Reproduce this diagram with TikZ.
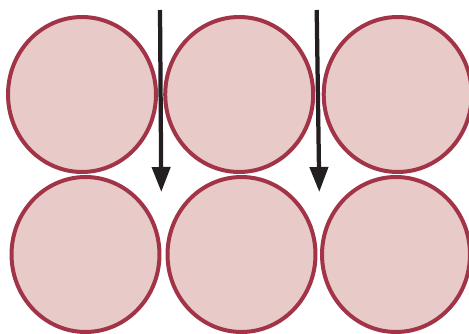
\documentclass[tikz,border=0pt]{standalone}
\usetikzlibrary{arrows.meta,shapes.geometric}

\definecolor{cellfill}{RGB}{232,202,201}
\definecolor{cellrim}{RGB}{162,52,72}
\definecolor{arrowdark}{RGB}{35,31,32}

\begin{document}
\begin{tikzpicture}[x=0.02cm,y=-0.02cm,line join=round,
  cell/.style={ellipse,draw=cellrim,fill=cellfill,line width=0.08cm,
    inner sep=0pt,minimum width=2.96cm,minimum height=3.10cm},
  flow/.style={draw=arrowdark,line width=0.085cm,
    -{Triangle[width=0.36cm,length=0.5cm]}}]

\useasboundingbox (0,0) rectangle (469,334);

% top row
\node[cell] (t1) at (82,94.5) {};
\node[cell] (t2) at (239.2,94.5) {};
\node[cell] (t3) at (397.7,94.5) {};

% bottom row
\node[cell] (b1) at (85.5,254.5) {};
\node[cell] (b2) at (241.5,254.5) {};
\node[cell] (b3) at (396,254.5) {};

% arrows between the columns
\coordinate (p1) at (160,10);
\coordinate (q1) at (161.3,192);
\coordinate (p2) at (316.7,10);
\coordinate (q2) at (319.3,192);

\draw[flow] (p1) -- (q1);
\draw[flow] (p2) -- (q2);

\end{tikzpicture}
\end{document}
